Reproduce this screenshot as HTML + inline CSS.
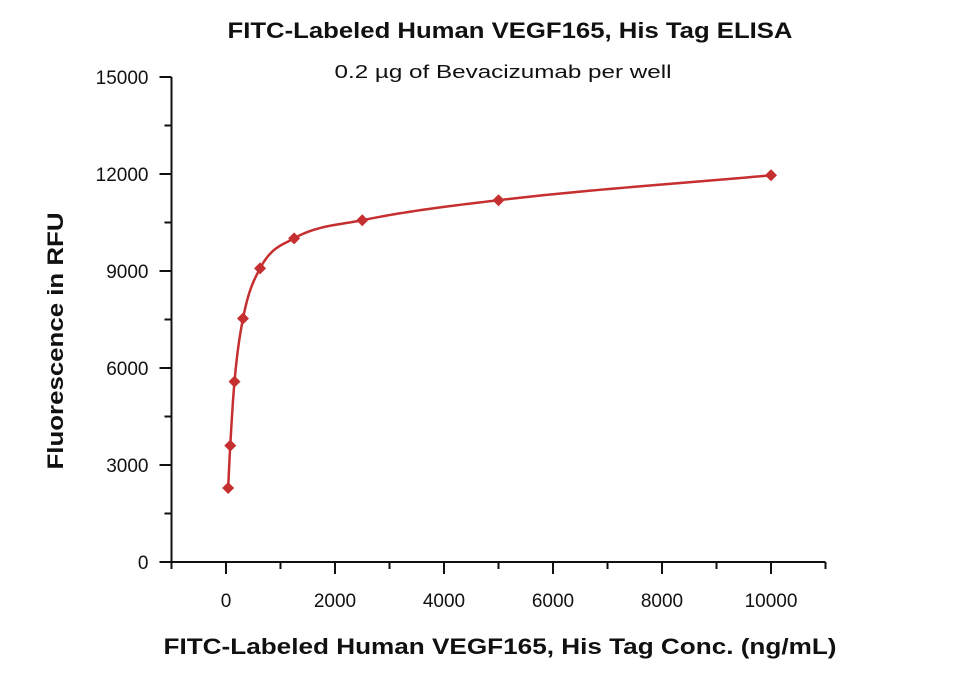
<!DOCTYPE html>
<html><head><meta charset="utf-8"><style>
html,body{margin:0;padding:0;background:#fff;}
svg{display:block;font-family:"Liberation Sans",sans-serif;}
</style></head><body>
<svg id="chart" width="960" height="674" viewBox="0 0 960 674">
<text x="510" y="38" text-anchor="middle" font-size="22" font-weight="bold" fill="#111" textLength="565" lengthAdjust="spacingAndGlyphs">FITC-Labeled Human VEGF165, His Tag ELISA</text>
<text x="503" y="78" text-anchor="middle" font-size="18" fill="#111" textLength="337" lengthAdjust="spacingAndGlyphs">0.2 µg of Bevacizumab per well</text>
<text x="500" y="654" text-anchor="middle" font-size="22" font-weight="bold" fill="#111" textLength="673" lengthAdjust="spacingAndGlyphs">FITC-Labeled Human VEGF165, His Tag Conc. (ng/mL)</text>
<text transform="translate(63,341) rotate(-90)" text-anchor="middle" font-size="22" font-weight="bold" fill="#111" textLength="257" lengthAdjust="spacingAndGlyphs">Fluorescence in RFU</text>
<g id="axes"></g>
<path id="fit" fill="none" stroke="#c62f2f" stroke-width="2.5"></path>
<g id="points"></g>
</svg>
<script>
const concs = [39, 78, 156, 312, 625, 1250, 2500, 5000, 10000];
const rfu = [2290, 3600, 5580, 7530, 9080, 10010, 10570, 11190, 11960];
const xTicks = [0, 2000, 4000, 6000, 8000, 10000];
const yTicks = [0, 3000, 6000, 9000, 12000, 15000];
const xMinor = [-1000, 1000, 3000, 5000, 7000, 9000, 11000];
const yMinor = [1500, 4500, 7500, 10500, 13500];

const X0=171.5, X1=825.5, XMIN=-1000, XMAX=11000;
const Y0=562, Y1=77, YMIN=0, YMAX=15000;
const sx = v => X0 + (v - XMIN) / (XMAX - XMIN) * (X1 - X0);
const sy = v => Y0 - (v - YMIN) / (YMAX - YMIN) * (Y0 - Y1);
const NS = "http://www.w3.org/2000/svg";
const axes = document.getElementById('axes');
function line(x1,y1,x2,y2,name){
  const l=document.createElementNS(NS,'line');
  l.setAttribute('x1',x1);l.setAttribute('y1',y1);l.setAttribute('x2',x2);l.setAttribute('y2',y2);
  l.setAttribute('stroke','#111');l.setAttribute('stroke-width','2');
  
  
  axes.appendChild(l);
}
function text(x,y,s,anchor,name){
  const t=document.createElementNS(NS,'text');
  t.setAttribute('x',x);t.setAttribute('y',y);t.setAttribute('text-anchor',anchor);
  t.setAttribute('font-size','19');t.setAttribute('fill','#111');t.textContent=s;
  
  
  axes.appendChild(t);
}
line(X0,Y0,X1,Y0,'x-axis-line');
line(X0,Y0,X0,Y1,'y-axis-line');
xTicks.forEach(v=>{line(sx(v),Y0,sx(v),Y0+12,'x-tick');text(sx(v),Y0+45,String(v),'middle','x-tick-label');});
xMinor.forEach(v=>{line(sx(v),Y0,sx(v),Y0+7,'x-minor-tick');});
yTicks.forEach(v=>{line(X0-12,sy(v),X0,sy(v),'y-tick');text(X0-23,sy(v)+7,String(v),'end','y-tick-label');});
yMinor.forEach(v=>{line(X0-7,sy(v),X0,sy(v),'y-minor-tick');});

const n=concs.length, d=[], m=[];
for(let i=0;i<n-1;i++) d.push((rfu[i+1]-rfu[i])/(concs[i+1]-concs[i]));
m.push(d[0]);
for(let i=1;i<n-1;i++) m.push(d[i-1]*d[i]<=0?0:(d[i-1]+d[i])/2);
m.push(d[n-2]);
for(let i=0;i<n-1;i++){ if(d[i]===0){m[i]=m[i+1]=0;continue;}
  const a=m[i]/d[i], b=m[i+1]/d[i], s=a*a+b*b;
  if(s>9){const t=3/Math.sqrt(s);m[i]=t*a*d[i];m[i+1]=t*b*d[i];}}
let p='';
for(let i=0;i<n-1;i++){
  const h=concs[i+1]-concs[i];
  for(let k=0;k<=30;k++){
    const t=k/30,t2=t*t,t3=t2*t;
    const y=(2*t3-3*t2+1)*rfu[i]+(t3-2*t2+t)*h*m[i]+(-2*t3+3*t2)*rfu[i+1]+(t3-t2)*h*m[i+1];
    const x=concs[i]+t*h;
    p+=(p?'L':'M')+sx(x).toFixed(2)+','+sy(y).toFixed(2);
  }
}
document.getElementById('fit').setAttribute('d',p);
const pts=document.getElementById('points');
concs.forEach((c,i)=>{
  const x=sx(c), y=sy(rfu[i]), r=6;
  const g=document.createElementNS(NS,'path');
  g.setAttribute('d',`M${x},${y-r}L${x+r},${y}L${x},${y+r}L${x-r},${y}Z`);
  g.setAttribute('fill','#c62f2f');
  
  
  pts.appendChild(g);
});
</script>
</body></html>
